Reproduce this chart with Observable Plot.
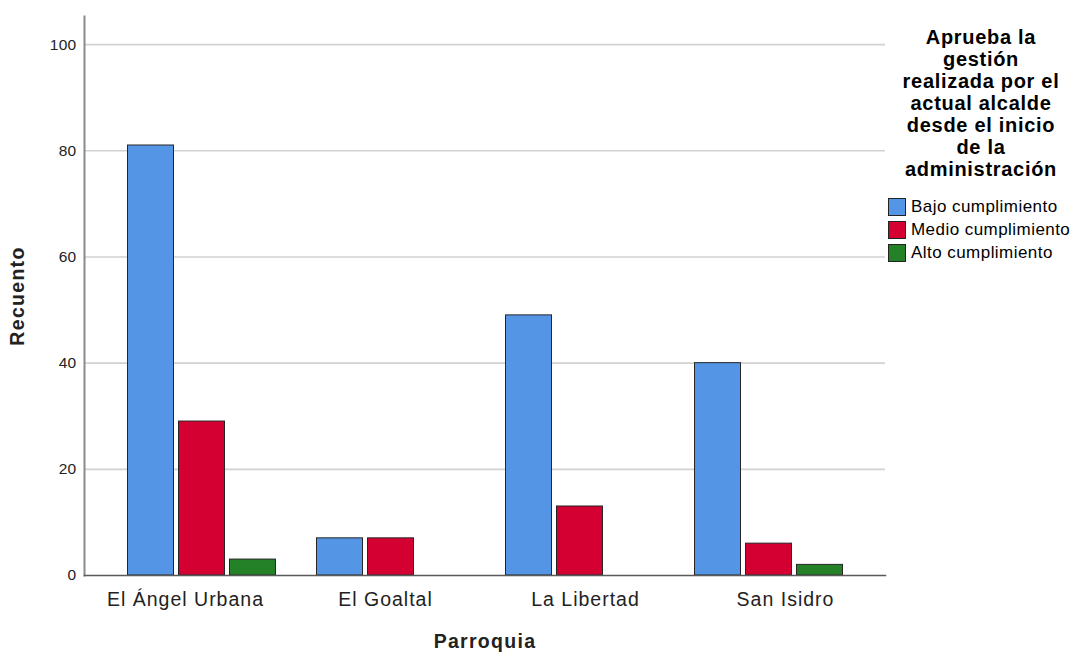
<!DOCTYPE html>
<html><head><meta charset="utf-8">
<script src="https://cdn.jsdelivr.net/npm/d3@7"></script>
<script src="https://cdn.jsdelivr.net/npm/@observablehq/plot@0.6"></script>
<style>
body{margin:0;background:#fff;font-family:"Liberation Sans",Arial,sans-serif}
#wrap{position:relative;width:1076px;height:652px;overflow:hidden}
#wrap svg{position:absolute;left:0;top:0}
#wrap svg g[aria-label="x-axis tick label"] text{letter-spacing:1px}
#wrap svg g[aria-label="y-axis tick label"] text{letter-spacing:0.3px}
#wrap svg g[aria-label="x-axis label"] text,#wrap svg g[aria-label="y-axis label"] text{letter-spacing:1.3px}
#legend{position:absolute;left:884px;top:26px;width:194px;color:#000}
#legend .t{font-weight:bold;font-size:20px;letter-spacing:0.7px;line-height:22px;text-align:center;margin-bottom:15px}
#legend .it{display:flex;align-items:center;height:23px;font-size:17px;letter-spacing:0.45px;white-space:nowrap}
#legend .sw{width:16px;height:16px;border:1px solid #222;margin-left:4px;margin-right:5px;flex:none}
</style></head><body>
<div id="wrap"><div id="legend"></div></div>
<script>
const parroquias = ["El Ángel Urbana", "El Goaltal", "La Libertad", "San Isidro"];
const series = ["Bajo cumplimiento", "Medio cumplimiento", "Alto cumplimiento"];
const bajo = [81, 7, 49, 40];
const medio = [29, 7, 13, 6];
const alto = [3, 0, 0, 2];
const colors = ["#5595e5", "#d40031", "#258128"];
const yTicks = [0, 20, 40, 60, 80, 100];
const legendTitle = ["Aprueba la", "gestión", "realizada por el", "actual alcalde", "desde el inicio", "de la", "administración"];
const xTitle = "Parroquia";
const yTitle = "Recuento";

const valuesBySeries = [bajo, medio, alto];
const data = [];
series.forEach((s, si) => parroquias.forEach((p, pi) => data.push({parroquia: p, serie: s, valor: valuesBySeries[si][pi]})));

const font = "'Liberation Sans', Arial, sans-serif";
const common = {
  width: 1076, height: 652,
  marginLeft: 84, marginRight: 191, marginTop: 16, marginBottom: 77,
  y: {domain: [0, 105.3], label: null, axis: null}
};
const bandPad = {paddingInner: 0.1905, paddingOuter: 0.21};

// background layer: grid, axes, titles
const back = Plot.plot({
  ...common,
  style: {fontFamily: font, background: "#fff", color: "#222"},
  x: {domain: parroquias, ...bandPad, label: null, axis: null},
  marks: [
    Plot.ruleY(yTicks.filter(d => d > 0), {stroke: "#d2d2d2", strokeWidth: 1.6}),
    Plot.axisY({ticks: yTicks, tickSize: 0, tickPadding: 8, fontSize: 15.5, label: null}),
    Plot.axisY({ticks: [], tickSize: 0, label: yTitle, labelAnchor: "center", labelOffset: 74, labelArrow: "none", fontSize: 19.5, fontWeight: "bold"}),
    Plot.axisX({tickSize: 0, tickPadding: 17, fontSize: 19.5, label: null}),
    Plot.axisX({ticks: [], tickSize: 0, label: xTitle, labelAnchor: "center", labelOffset: 72, labelArrow: "none", fontSize: 19.5, fontWeight: "bold"})
  ]
});

// bar layer: grouped bars via fx facets sharing the same band layout
const bars = Plot.plot({
  ...common,
  style: {fontFamily: font, background: "transparent"},
  fx: {domain: parroquias, ...bandPad, label: null, axis: null},
  x: {domain: series, padding: 0, axis: null},
  color: {domain: series, range: colors},
  marks: [
    Plot.barY(data, {fx: "parroquia", x: "serie", y: "valor", fill: "serie", stroke: "#262626", strokeWidth: 1, insetLeft: 2.5, insetRight: 2.5, filter: d => d.valor > 0})
  ]
});

// axis lines layer on top
const lines = Plot.plot({
  ...common,
  style: {background: "transparent"},
  marks: [
    Plot.frame({anchor: "left", stroke: "#8a8a8a", strokeWidth: 2}),
    Plot.frame({anchor: "bottom", stroke: "#5a5a5a", strokeWidth: 1.5})
  ]
});

const wrap = document.getElementById("wrap");
wrap.insertBefore(back, wrap.firstChild);
wrap.insertBefore(bars, document.getElementById("legend"));
wrap.insertBefore(lines, document.getElementById("legend"));

const lg = document.getElementById("legend");
const t = document.createElement("div"); t.className = "t";
t.innerHTML = legendTitle.join("<br>");
lg.appendChild(t);
series.forEach((s, i) => {
  const it = document.createElement("div"); it.className = "it";
  const sw = document.createElement("span"); sw.className = "sw"; sw.style.background = colors[i];
  const tx = document.createElement("span"); tx.textContent = s;
  it.appendChild(sw); it.appendChild(tx); lg.appendChild(it);
});
</script>
</body></html>
